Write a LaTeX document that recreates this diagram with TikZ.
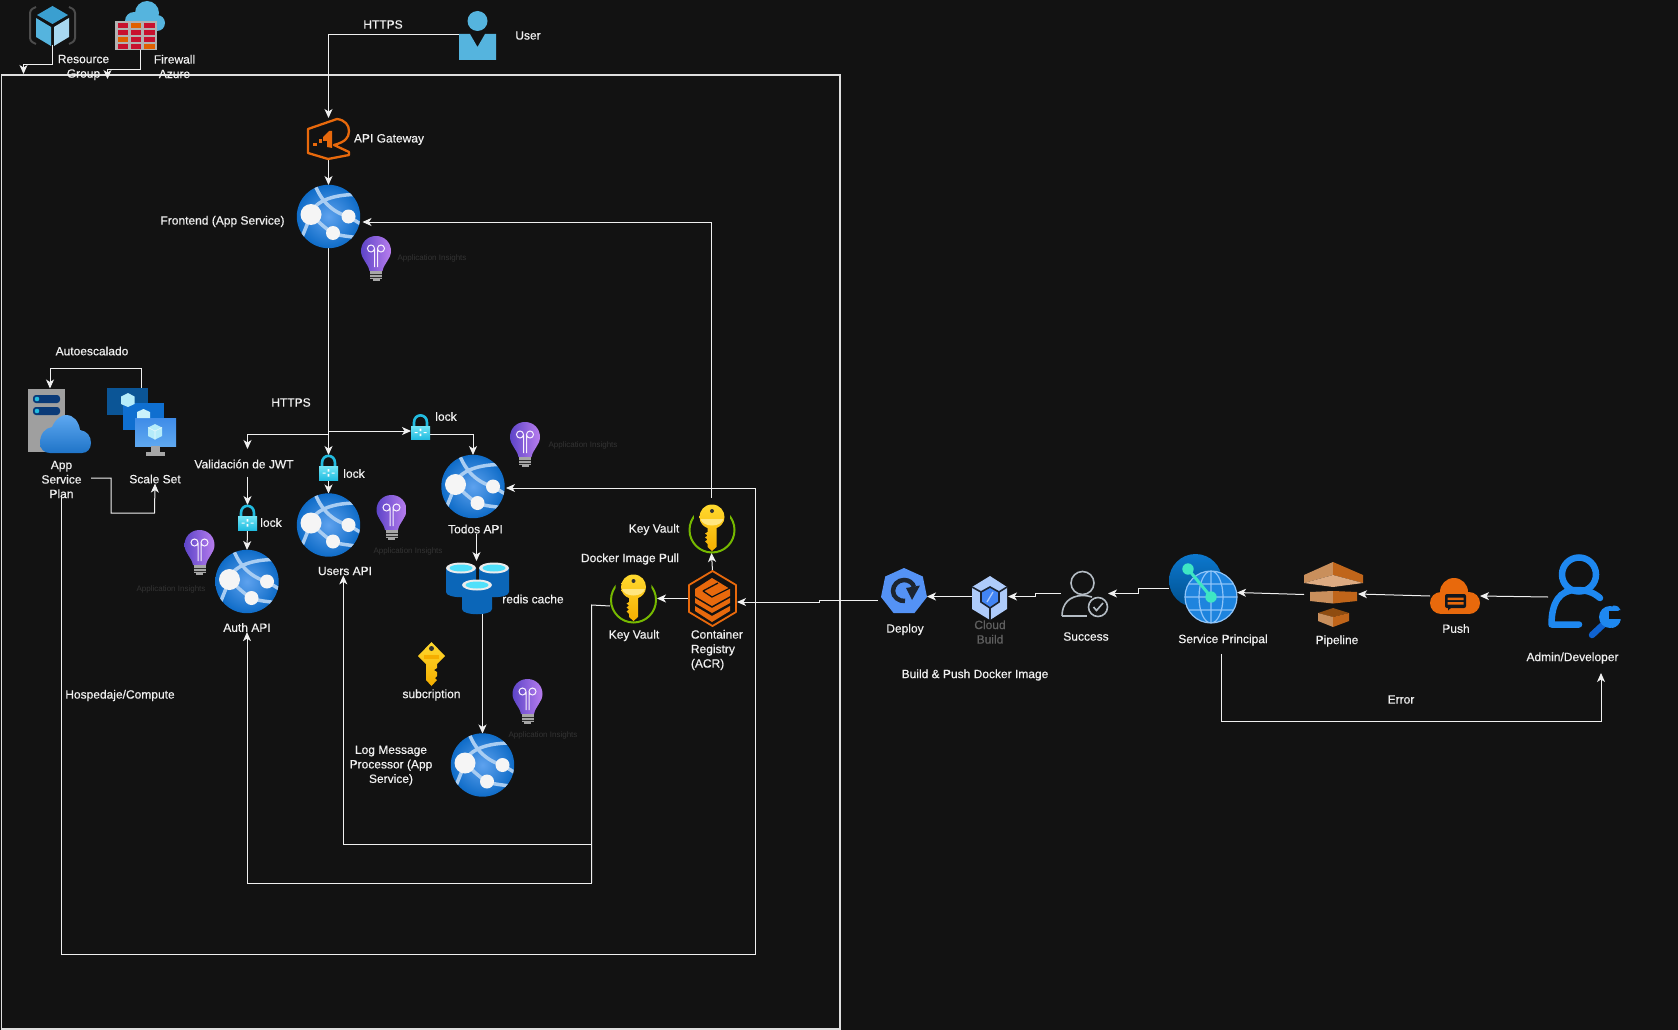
\documentclass[tikz,border=0pt]{standalone}
\usepackage{fontspec}
\setmainfont{Liberation Sans}
\newfontfamily\lblfont{Liberation Sans}[FakeBold=0.5]
\usetikzlibrary{arrows.meta,calc}
\definecolor{bg}{HTML}{121212}
\definecolor{txt}{HTML}{F0F0F0}
\definecolor{ln}{HTML}{F0F0F0}
\definecolor{orng}{HTML}{E8690C}
\definecolor{ai}{HTML}{333333}
\definecolor{globeA}{HTML}{0F6CC8}
\definecolor{globeB}{HTML}{5EA2EE}
\definecolor{globeL}{HTML}{A9CDF2}
\definecolor{bulbA}{HTML}{5E45C8}
\definecolor{bulbB}{HTML}{B87DEE}
\definecolor{lockA}{HTML}{22BCE0}
\definecolor{lockB}{HTML}{6FE4F5}
\definecolor{kvG}{HTML}{76B900}
\definecolor{keyA}{HTML}{FFD92E}
\definecolor{keyB}{HTML}{F5AE00}
\definecolor{keyC}{HTML}{FFE680}
\definecolor{cylB}{HTML}{0B66B8}
\definecolor{cylC}{HTML}{50E0FA}
\definecolor{HTMLa}{HTML}{3A9FD0}
\definecolor{HTMLb}{HTML}{55B4DE}
\definecolor{HTMLc}{HTML}{A8D8F0}
\definecolor{HTMLe}{HTML}{0A3A78}
\definecolor{HTMLf}{HTML}{5EA8F0}
\definecolor{HTMLg}{HTML}{1F74C8}
\definecolor{HTMLh}{HTML}{0B5596}
\definecolor{HTMLi}{HTML}{0F6FD0}
\definecolor{HTMLj}{HTML}{3F8CE8}
\definecolor{HTMLk}{HTML}{B5ECFA}
\definecolor{HTMLm}{HTML}{5492F5}
\definecolor{HTMLn}{HTML}{1C2430}
\definecolor{HTMLo}{HTML}{AECBFA}
\definecolor{HTMLp}{HTML}{4285F4}
\definecolor{HTMLq}{HTML}{B4BCC4}
\definecolor{HTMLr}{HTML}{0C78CE}
\definecolor{HTMLs}{HTML}{00508F}
\definecolor{HTMLt}{HTML}{1E84DE}
\definecolor{HTMLu}{HTML}{8FC4F8}
\definecolor{HTMLv}{HTML}{3EE6C4}
\definecolor{HTMLw}{HTML}{1E88F0}
\definecolor{HTMLx}{HTML}{0F62D0}
\definecolor{fwr}{HTML}{C8102E}
\definecolor{fwo}{HTML}{E06000}
\definecolor{pL}{HTML}{C98F5C}
\definecolor{pR}{HTML}{C0651A}
\definecolor{pP}{HTML}{DDAB82}
\definecolor{pD}{HTML}{8F4C10}
\tikzset{
  lbl/.style={text=txt,font=\fontsize{12}{14.5}\selectfont\lblfont,inner sep=0pt,align=center},
  ailbl/.style={text=ai,font=\fontsize{8}{10}\selectfont,inner sep=0pt},
  boxn/.style={inner sep=0pt,outer sep=0pt,minimum width=#1,minimum height=#1},
  boxr/.style 2 args={inner sep=0pt,outer sep=0pt,minimum width=#1,minimum height=#2},
  conn/.style={draw=ln,line width=1pt,-{Stealth[length=9pt,width=8pt,inset=2.5pt]}},
  plain/.style={draw=ln,line width=1pt},
  globeic/.pic={
    \shade[inner color=globeB,outer color=globeA] (0,0) circle (31.7);
    \begin{scope}
      \clip (0,0) circle (31.7);
      \draw[globeL,line width=3.5pt] (-14,-33) .. controls (-8,-16) and (4,-4) .. (20,0) -- (33,8);
      \draw[globeL,line width=3.5pt] (28,-22) .. controls (6,-22) and (-14,-16) .. (-18,-2) .. controls (-21,8) and (-24,14) .. (-27,22);
      \draw[globeL,line width=3.5pt] (-17,-2) .. controls (-8,8) and (0,14) .. (5,17) .. controls (14,20) and (24,20) .. (33,22);
    \end{scope}
    \fill[white!92!gray] (-17.5,-2) circle (10.5);
    \fill[white!92!gray] (20,0) circle (7);
    \fill[white!92!gray] (4.5,16.5) circle (7);
  },
  bulbic/.pic={
    \shade[left color=bulbA,right color=bulbB] (0,-22) .. controls (-9,-22) and (-15,-15) .. (-15,-7) .. controls (-15,1) and (-8,5) .. (-6.5,13) -- (6.5,13) .. controls (8,5) and (15,1) .. (15,-7) .. controls (15,-15) and (9,-22) .. (0,-22) -- cycle;
    \draw[white!90!bulbB,line width=1pt] (-1.5,9) -- (-1.5,-9) (1.5,9) -- (1.5,-9) (-5,-9.5) circle (3.5) (5,-9.5) circle (3.5);
    \fill[gray!70!white] (-6,13) rectangle (6,21);
    \draw[gray!35!black,line width=.5pt] (-6,16) -- (6,16) (-6,19) -- (6,19);
    \fill[gray!70!white] (-3.5,21) rectangle (3.5,23);
  },
  lockic/.pic={
    \draw[lockA,line width=2.6pt] (-6.5,1) -- (-6.5,-4.5) .. controls (-6.5,-14) and (6.5,-14) .. (6.5,-4.5) -- (6.5,1);
    \shade[top color=lockB,bottom color=lockA] (-9.5,-1) rectangle (9.5,12.5);
    \fill[white] (-.8,1.5) rectangle (.8,4) (-.8,6.5) rectangle (.8,9);
    \fill[white] (-6,5) rectangle (-3,6) (3,5) rectangle (6,6);
  },
  kvic/.pic={
    \draw[kvG,line width=2pt] (0,0) circle (22.5);
    \fill[bg] (0,-14) circle (18);
    \shade[top color=keyA,bottom color=keyB] (0,-25.5) .. controls (-8,-25.5) and (-12.5,-19) .. (-12.5,-13) .. controls (-12.5,-7) and (-8,-3) .. (-4.5,-2) -- (-4.5,2) -- (-7,3.5) -- (-4.5,5.5) -- (-7,7.5) -- (-4.5,9.5) -- (-7,11.5) -- (-4.5,14) -- (-4.5,17) -- (0,21) -- (4.5,17) -- (4.5,-2) .. controls (8,-3) and (12.5,-7) .. (12.5,-13) .. controls (12.5,-19) and (8,-25.5) .. (0,-25.5) -- cycle;
    \fill[keyC] (-11.5,-11) -- (11.5,-11) .. controls (10,-7) and (6,-4.5) .. (0,-4.5) .. controls (-6,-4.5) and (-10,-7) .. (-11.5,-11) -- cycle;
    \fill[black!80] (0,-19) circle (2);
  },
  cylic/.pic={
    \fill[cylB] (-15,-12) -- (-15,12) .. controls (-15,19) and (15,19) .. (15,12) -- (15,-12) -- cycle;
    \fill[white!85!gray] (0,-12) ellipse [x radius=15,y radius=5.5];
    \fill[cylC] (0,-12) ellipse [x radius=11.5,y radius=3.5];
  }
}
\begin{document}
\begin{tikzpicture}[x=1pt,y=-1pt]
\useasboundingbox (0,0) rectangle (1678,1030);
\fill[bg] (0,0) rectangle (1678,1030);
\draw[draw=white!75!gray,line width=1.2pt] (1.5,75) rectangle (840,1029);

% --- icon anchor nodes
\node[boxr={49}{39}] (rg) at (52.5,25.5) {};
\node[boxr={42}{50}] (fw) at (136,25) {};
\node[boxr={37}{39}] (user) at (477.5,21) {};
\node[boxr={43}{42}] (apigw) at (328.5,139) {};
\node[boxn=63] (fe) at (328.5,216.5) {};
\node[boxn=63] (users) at (328.5,525) {};
\node[boxn=63] (auth) at (247,581.5) {};
\node[boxn=63] (todos) at (473,486.5) {};
\node[boxn=63] (logm) at (482.5,765) {};
\node[boxr={19}{25}] (lockU) at (328.5,467.5) {};
\node[boxr={19}{25}] (lockA) at (247.5,517.5) {};
\node[boxr={19}{25}] (lockT) at (420.5,427) {};
\node[boxr={63}{51}] (redis) at (477.5,587.5) {};
\node[boxr={47}{48}] (kvtop) at (711.5,529) {};
\node[boxr={47}{48}] (kvlow) at (633.5,599) {};
\node[boxr={49}{55}] (acr) at (712.5,598.5) {};
\node[boxr={46}{45}] (deploy) at (904,591) {};
\node[boxr={36}{44}] (cb) at (990,598) {};
\node[boxr={47}{47}] (succ) at (1084.5,593.5) {};
\node[boxr={68}{69}] (sp) at (1203,588.5) {};
\node[boxr={59}{65}] (pipe) at (1333.5,594.5) {};
\node[boxr={50}{36}] (push) at (1455,596) {};
\node[boxr={72}{72}] (admin) at (1584,597) {};
\node[boxr={63}{65}] (plan) at (59.5,421) {};
\node[boxr={69}{68}] (scale) at (141.5,422) {};

% --- labels
\node[lbl] (tRG) at (83.5,67.5) {Resource\\Group};
\node[lbl] (tFW) at (174.5,66.5) {Firewall\\Azure};
\node[lbl] (tH1) at (383,24.5) {HTTPS};
\node[lbl] (tUser) at (528,35.5) {User};
\node[lbl] (tGW) at (389,139.5) {API Gateway};
\node[lbl] (tFE) at (222.5,221.5) {Frontend (App Service)};
\node[lbl] (tAuto) at (92,351) {Autoescalado};
\node[lbl] (tPlan) at (61.5,479.5) {App\\Service\\Plan};
\node[lbl] (tScale) at (155,479) {Scale Set};
\node[lbl] (tH2) at (291,402.5) {HTTPS};
\node[lbl] (tJWT) at (244,464) {Validación de JWT};
\node[lbl] (tL1) at (354,473.5) {lock};
\node[lbl] (tL2) at (271,522.5) {lock};
\node[lbl] (tL3) at (446,416.5) {lock};
\node[lbl] (tUsers) at (345,571) {Users API};
\node[lbl] (tAuth) at (247,627.5) {Auth API};
\node[lbl] (tTodos) at (475.5,529) {Todos API};
\node[lbl] (tRedis) at (533,599) {redis cache};
\node[lbl] (tSub) at (431.5,695) {subcription};
\node[lbl] (tLog) at (391,765.5) {Log Message\\Processor (App\\Service)};
\node[lbl] (tKV1) at (654,529.5) {Key Vault};
\node[lbl] (tDock) at (630,559) {Docker Image Pull};
\node[lbl] (tKV2) at (634,635.5) {Key Vault};
\node[lbl,align=left,anchor=west] (tACR) at (690.7,650) {Container\\Registry\\(ACR)};
\node[lbl] (tHost) at (120,695.5) {Hospedaje/Compute};
\node[lbl] (tDep) at (905,629.5) {Deploy};
\node[lbl,text=gray!75!black] (tCB) at (990,632) {Cloud\\Build};
\node[lbl] (tSucc) at (1086,636.5) {Success};
\node[lbl] (tSP) at (1223,640) {Service Principal};
\node[lbl] (tPipe) at (1337,641) {Pipeline};
\node[lbl] (tPush) at (1456,628.5) {Push};
\node[lbl] (tAdm) at (1572.5,658) {Admin/Developer};
\node[lbl] (tBP) at (975,675) {Build \& Push Docker Image};
\node[lbl] (tErr) at (1401,699.5) {Error};
\node[ailbl] (ai1) at (432,258.5) {Application Insights};
\node[ailbl] (ai2) at (583,445.5) {Application Insights};
\node[ailbl] (ai3) at (408,551.5) {Application Insights};
\node[ailbl] (ai4) at (171,589.5) {Application Insights};
\node[ailbl] (ai5) at (543,735.5) {Application Insights};

% --- connectors
\coordinate (rgT) at (23.5,74);
\coordinate (fwT) at (107.5,79);
\draw[conn] (rg.south) -- ++(0,20) -| (rgT);
\draw[conn] ($(fw.south)+(4.5,0)$) -- ++(0,20) -| (fwT);
\draw[conn] (user.west |- 0,35) -| (apigw.north);
\draw[conn] (apigw.south) -- (fe.north);
\draw[conn] (fe.south) -- (lockU.north);
\coordinate (trA) at (328.5,434);
\coordinate (trB) at (328.5,431);
\coordinate (jwtIn) at (247.5,449);
\draw[conn] (trA) -| (jwtIn);
\draw[conn] (trB) -- (lockT.west |- trB);
\draw[conn] (lockT.east |- 0,434) -| (todos.north);
\draw[conn] (lockU.south) -- (users.north);
\draw[conn] (tJWT.south -| lockA) ++(0,8) -- (lockA.north);
\draw[conn] (lockA.south) -- (auth.north);
\coordinate (feIn) at (362.5,222);
\draw[conn] (kvtop.north) |- (feIn);
\coordinate (tdIn) at (506,488);
\coordinate (hostA) at (61.5,954);
\coordinate (hostB) at (755.7,954);
\draw[conn] (tPlan.south) -- (hostA) -- (hostB) |- (tdIn);
\draw[conn] (tTodos.south -| 476.5,0) -- (476.5,561);
\draw[conn] (482.5,613) -- (logm.north);
\coordinate (plOut) at (91,478);
\draw[conn] (plOut) -- (111,478) |- (154.5,513) -- (tScale.south);
\draw[conn] (scale.north) -- (141.5,368) -| (plan.north -| 50,0);
\draw[conn] (acr.north) -- (kvtop.south);
\draw[conn] (acr.west) -- (kvlow.east |- acr.west);
\coordinate (kvJ) at (591.7,605);
\coordinate (kvJa) at (591.7,844);
\coordinate (kvJb) at (591.7,883);
\draw[plain] ($(kvlow.west)+(0,7)$) -- (kvJ) -- (kvJb);
\draw[conn] (kvJa) -| (tUsers.south -| 343.3,0);
\draw[conn] (kvJb) -| (tAuth.south);
\coordinate (dpO) at (878,600);
\coordinate (dpA) at (819,600);
\coordinate (dpB) at (819,602);
\draw[conn] (dpO) -- (dpA) -- (dpB) -- (acr.east |- dpB);
\draw[conn] (cb.west |- 0,596.5) -- (deploy.east |- 0,596.5);
\draw[conn] (succ.west) -- (1035,593.5) -- (1035,596.5) -- (cb.east |- 0,596.5);
\draw[conn] (sp.west |- 0,588) -- (1138,588) -- (1138,593.5) -- (succ.east);
\draw[conn] (pipe.west) -- (1237,592.5);
\draw[conn] (push.west) -- (1358,594);
\draw[conn] (admin.west) -- (push.east);
\coordinate (errB) at (1221.5,721);
\coordinate (errE) at (1601,673);
\draw[conn] (tSP.south -| errB) ++(0,8) -- (errB) -| (errE);

% --- repeated icons
\pic at (fe) {globeic};
\pic at (users) {globeic};
\pic at (auth) {globeic};
\pic at (todos) {globeic};
\pic at (logm) {globeic};
\pic at (376,258) {bulbic};
\pic at (525,444) {bulbic};
\pic at (391.5,517) {bulbic};
\pic at (199.5,552) {bulbic};
\pic at (527.5,701) {bulbic};
\pic at (lockU) {lockic};
\pic at (lockA) {lockic};
\pic at (lockT) {lockic};
\pic at (712,530) {kvic};
\pic at (633.5,600) {kvic};
\pic at (494,580) {cylic};
\pic at (461,580) {cylic};
\pic at (477,597) {cylic};

% --- resource group icon
\draw[gray!60!black,line width=2pt,rounded corners=3pt] (36,7) -- (30,10) -- (30,41) -- (36,44);
\draw[gray!60!black,line width=2pt,rounded corners=3pt] (69,7) -- (75,10) -- (75,41) -- (69,44);
\fill[HTMLa] (52.5,6) -- (68,15) -- (52.5,24) -- (37,15) -- cycle;
\fill[HTMLb] (36,18) -- (51,27) -- (51,46) -- (36,37) -- cycle;
\fill[HTMLc] (69,18) -- (54,27) -- (54,46) -- (69,37) -- cycle;

% --- firewall icon
\fill[HTMLb] (147,13) circle (12) (134,21) circle (9) (157,23) circle (8);
\fill[gray!60!white] (115,21) rectangle (157,50);
\foreach \r/\ca/\cb/\cc in {0/fwr/fwo/fwr,1/fwr/fwr/fwr,2/fwo/fwr/fwr,3/fwr/fwr/fwo}{
  \fill[\ca] (117.5,23+7*\r) rectangle (128,28.5+7*\r);
  \fill[\cb] (130.5,23+7*\r) rectangle (141,28.5+7*\r);
  \fill[\cc] (143.5,23+7*\r) rectangle (155,28.5+7*\r);
}

% --- user
\fill[HTMLb] (477.5,21) circle (10);
\fill[HTMLb] (459,34) -- (470,34) -- (477.5,47) -- (485,34) -- (496,34) -- (496,60) -- (459,60) -- cycle;

% --- api gateway
\draw[orng,line width=2.3pt,line join=round] (308,129) -- (337,119) .. controls (345,120) and (349,125) .. (349,131) .. controls (349,138) and (345,142) .. (334,145) -- (349,152) -- (349,155) -- (328,159) -- (308,153) -- cycle;
\fill[orng] (323,137) -- (329,131) -- (332,131) -- (332,148) -- (327,147) -- (327,141) -- (323,141) -- cycle;
\fill[orng] (313,143) rectangle (316.5,146);
\fill[orng] (318.5,139.5) rectangle (322,143.5);

% --- app service plan
\fill[gray!75!white] (28,389) rectangle (65,452);
\fill[HTMLe,rounded corners=3pt] (33,395) rectangle (60,403);
\fill[HTMLe,rounded corners=3pt] (33,407) rectangle (60,415);
\fill[lockA] (37,399) circle (2.3) (37,411) circle (2.3);
\shade[top color=HTMLf,bottom color=HTMLg] (40,443) .. controls (40,434) and (45,428) .. (52,427) .. controls (56,418) and (62,415) .. (66,415) .. controls (74,415) and (79,422) .. (80,430) .. controls (87,431) and (91,436) .. (91,443) .. controls (91,449) and (87,453) .. (82,453) -- (50,453) .. controls (44,453) and (40,449) .. (40,443) -- cycle;

% --- scale set
\fill[HTMLh] (107,388) rectangle (148,415);
\fill[HTMLi] (123,403) rectangle (164,430);
\shade[top color=HTMLj,bottom color=HTMLf] (135,418) rectangle (176,446);
\fill[gray!70!white] (151,446) rectangle (160,452);
\fill[gray!70!white] (146,452) rectangle (165,456);
\fill[HTMLk] (128,393) -- (134.5,396.5) -- (134.5,404) -- (128,407) -- (121,404) -- (121,396.5) -- cycle;
\fill[HTMLk!70!white] (143.5,409) -- (150,412) -- (150,418) -- (137,418) -- (137,412) -- cycle;
\fill[HTMLk] (155,424) -- (162,427.5) -- (162,436) -- (155,439.5) -- (148,436) -- (148,427.5) -- cycle;
\draw[white!70!HTMLk,line width=.6pt] (148,427.5) -- (155,431) -- (162,427.5) (155,431) -- (155,439.5);

% --- subscription key
\shade[top color=keyA,bottom color=keyB] (431.5,642) -- (445,656) -- (437,664) -- (437,668) -- (434,670) -- (437,672) -- (437,676) -- (435,678) -- (437,680) -- (431.5,686) -- (426,680) -- (426,664) -- (418,656) -- cycle;
\fill[keyB] (424,655) rectangle (439,659);
\fill[black!80] (431.5,648.5) circle (2.5);

% --- ACR
\draw[orng,line width=1.8pt,line join=round] (712.5,571) -- (736,585) -- (736,612) -- (712.5,626) -- (689,612) -- (689,585) -- cycle;
\fill[orng] (712,578) -- (730,589) -- (730,596) -- (712,606) -- (695,596) -- (695,589) -- cycle;
\draw[bg,line width=1.3pt] (703,591) -- (718,583) (703,591) -- (712,597) -- (730,588);
\fill[orng] (695,598) -- (712,608) -- (730,598) -- (730,603) -- (712,613) -- (695,603) -- cycle;
\fill[orng] (695,606) -- (712,616) -- (730,606) -- (730,611) -- (712,622) -- (695,611) -- cycle;

% --- deploy
\fill[HTMLm] (904,568) -- (922.8,576.5) -- (927,597) -- (914.5,613) -- (893.5,613) -- (881,597) -- (885.2,576.5) -- cycle;
\draw[HTMLn,line width=4.5pt] (905,601) .. controls (899,601.5) and (893,597) .. (893,591) .. controls (893,585) and (898,580) .. (904,580) .. controls (909,580) and (913,583) .. (914,587);
\fill[HTMLn] (906,588) -- (920,585.5) -- (912,600) -- cycle;

% --- cloud build
\fill[HTMLo] (990,576) -- (1007,587) -- (1007,609) -- (990,620) -- (972,609) -- (972,587) -- cycle;
\fill[HTMLp] (981,592) -- (990,587) -- (999,592) -- (999,602) -- (990,608) -- (981,602) -- cycle;
\draw[HTMLn,line width=1.6pt] (972,587) -- (981,592) (1007,587) -- (999,592) (990,608) -- (990,620) (981,592) -- (981,602) -- (990,608) -- (999,602) -- (999,592) (981,592) -- (990,587) -- (999,592);
\draw[HTMLo,line width=1.3pt] (987,602) -- (993,592);

% --- success
\draw[HTMLq,line width=1.6pt] (1082.5,583) circle (11.5);
\draw[HTMLq,line width=1.6pt] (1062,616) .. controls (1062,603) and (1070,596) .. (1082,595.5) .. controls (1086,595.5) and (1089,596) .. (1092,597);
\draw[HTMLq,line width=1.6pt] (1062,616) -- (1087,616);
\draw[HTMLq,line width=1.6pt] (1098,607) circle (9.5);
\draw[HTMLq,line width=1.6pt] (1093.5,607) -- (1096.5,610.5) -- (1103,603);

% --- service principal
\shade[top color=HTMLr,bottom color=HTMLs] (1195.5,580.5) circle (26.5);
\fill[HTMLt] (1211,597) circle (26);
\draw[HTMLu,line width=1.2pt] (1211,597) circle (26) (1211,597) ellipse [x radius=12,y radius=26] (1185,597) -- (1237,597) (1211,571) -- (1211,623) (1189,584) -- (1233,584) (1189,610) -- (1233,610);
\draw[HTMLv,line width=3pt] (1188,569) -- (1211,597);
\fill[HTMLv] (1188,569) circle (5.7) (1211,597) circle (5.7);

% --- pipeline
\fill[pL] (1333,562) -- (1304,575) -- (1304,583) -- (1333,575) -- cycle;
\fill[pR] (1333,562) -- (1363,575) -- (1363,583) -- (1333,575) -- cycle;
\fill[pP] (1304,583) -- (1333,575) -- (1363,583) -- (1333,587) -- cycle;
\fill[pL] (1310,592) -- (1333,591) -- (1333,603.5) -- (1310,601) -- cycle;
\fill[pR] (1357,592) -- (1333,591) -- (1333,603.5) -- (1357,601) -- cycle;
\fill[pD] (1318,613) -- (1333,608) -- (1349,613) -- (1333,617) -- cycle;
\fill[pL] (1318,613) -- (1333,617) -- (1333,627) -- (1318,621) -- cycle;
\fill[pR] (1349,613) -- (1333,617) -- (1333,627) -- (1349,621) -- cycle;

% --- push
\fill[orng] (1454,592) circle (14) (1441,603) circle (11) (1469,603) circle (11);
\fill[orng] (1441,600) rectangle (1469,614);
\fill[HTMLn!60!black,rounded corners=2pt] (1445,594) rectangle (1466,608);
\fill[HTMLn!60!black] (1448,607) -- (1448,610.5) -- (1452,607) -- cycle;
\fill[orng] (1447.5,597.5) rectangle (1463.5,600) (1447.5,602) rectangle (1463.5,604.5);

% --- admin
\draw[HTMLw,line width=6.5pt] (1579,574.5) circle (17);
\draw[HTMLw,line width=6.5pt,line cap=round,line join=round] (1600,598) .. controls (1593,592) and (1586,590) .. (1576,590) .. controls (1560,590) and (1551.5,602) .. (1551.5,624.5) -- (1579,624.5);
\draw[HTMLx,line width=6.5pt,line cap=round] (1592,635) -- (1607,621);
\fill[HTMLw] (1610,617) circle (11);
\fill[bg] (1609,611) -- (1622,611) -- (1622,619) -- (1609,619) -- cycle;
\fill[HTMLw] (1613,605.5) .. controls (1617,605.5) and (1620,607) .. (1620.5,610) -- (1611,610) -- cycle;
\fill[HTMLw] (1620.5,619.5) .. controls (1620,624) and (1617,627) .. (1612,628) -- (1610,619.5) -- cycle;
\end{tikzpicture}
\end{document}
